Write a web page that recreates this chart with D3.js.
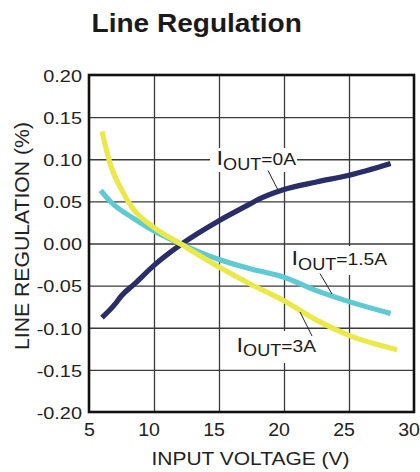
<!DOCTYPE html>
<html><head><meta charset="utf-8">
<script src="https://cdn.jsdelivr.net/npm/d3@7"></script>
<style>
html,body{margin:0;padding:0;background:#fff;}
svg{display:block;font-family:"Liberation Sans",Arial,Helvetica,sans-serif;}
</style></head>
<body><svg id="c" width="420" height="472"></svg>
<script>
// ---- data ----
const xTicks = [5, 10, 15, 20, 25, 30];
const yTicks = [-0.20, -0.15, -0.10, -0.05, 0.00, 0.05, 0.10, 0.15, 0.20];

const v0A   = [6, 7, 7.5, 8.5, 10, 12, 15, 17.4, 18, 20, 22.5, 25, 28.2];
const reg0A = [-0.088, -0.072, -0.062, -0.048, -0.026, -0.002, 0.027, 0.047, 0.052, 0.064, 0.073, 0.081, 0.095];

const v15A   = [5.9, 6.7, 8.3, 10, 12, 15, 17.4, 20, 22.5, 25, 28.2];
const reg15A = [0.063, 0.049, 0.031, 0.015, 0.000, -0.019, -0.030, -0.040, -0.056, -0.069, -0.083];

const v3A   = [6, 6.7, 7.4, 8.3, 10, 12, 15, 17.4, 20, 22.5, 25, 28.7];
const reg3A = [0.133, 0.091, 0.067, 0.043, 0.019, 0.000, -0.028, -0.048, -0.068, -0.091, -0.109, -0.126];

const seriesNames = ["0A", "1.5A", "3A"];
const colors = ["#2b2d68", "#5fcad2", "#ebe84a"];

// ---- layout ----
const svg = d3.select("#c");
const L = 89, R = 414, T = 75, B = 412;
const x = d3.scaleLinear().domain([5, 30]).range([L, R]);
const y = d3.scaleLinear().domain([-0.2, 0.2]).range([B, T]);
const font = '"Liberation Sans",Arial,Helvetica,sans-serif';

// title
svg.append("text").attr("transform", "translate(91.5,31.5) scale(1.1,1)")
  .attr("font-size", 25.5).attr("font-weight", "bold").attr("fill", "#1a1a1a")
  .text("Line Regulation");

// gridlines
const gx = svg.append("g").attr("transform", `translate(0,${B})`)
  .call(d3.axisBottom(x).tickValues(xTicks.slice(1, -1)).tickSize(-(B - T)).tickFormat(""));
const gy = svg.append("g").attr("transform", `translate(${L},0)`)
  .call(d3.axisLeft(y).tickValues(yTicks.slice(1, -1)).tickSize(-(R - L)).tickFormat(""));
[gx, gy].forEach(g => {
  g.select(".domain").remove();
  g.selectAll(".tick line").attr("stroke", "#3a3a3a").attr("stroke-width", 1.3);
});

// white boxes behind labels
const boxes = [[210, 148, 87, 24], [289, 246, 103, 29], [233, 331, 85, 32]];
svg.append("g").selectAll("rect").data(boxes).join("rect")
  .attr("x", d => d[0]).attr("y", d => d[1]).attr("width", d => d[2]).attr("height", d => d[3])
  .attr("fill", "#fff");

// frame
svg.append("rect").attr("x", L).attr("y", T).attr("width", R - L).attr("height", B - T)
  .attr("fill", "none").attr("stroke", "#111").attr("stroke-width", 2.6);

// tick labels
const ax = svg.append("g").attr("transform", `translate(0,${B})`)
  .call(d3.axisBottom(x).tickValues(xTicks).tickSize(0).tickPadding(0).tickFormat(d3.format("d")));
ax.select(".domain").remove();
ax.selectAll("text").attr("text-anchor", "end").attr("x", 0).attr("y", 0).attr("dy", 0)
  .attr("transform", "translate(5.5,24) scale(1.12,1)")
  .attr("font-size", 17.5).attr("fill", "#222").attr("font-family", font);

const ay = svg.append("g").attr("transform", `translate(${L},0)`)
  .call(d3.axisLeft(y).tickValues(yTicks).tickSize(0).tickPadding(0).tickFormat(d3.format(".2f")));
ay.select(".domain").remove();
ay.selectAll("text").attr("x", 0).attr("y", 0).attr("dy", 0).attr("text-anchor", "end")
  .attr("transform", "translate(-7,6.3) scale(1.17,1)")
  .attr("font-size", 17).attr("fill", "#222").attr("font-family", font)
  .text(d => d3.format(".2f")(d).replace("−", "-"));

// axis titles
svg.append("text").attr("x", 151.5).attr("y", 465).attr("font-size", 19).attr("fill", "#222")
  .attr("textLength", 198).attr("lengthAdjust", "spacingAndGlyphs").text("INPUT VOLTAGE (V)");
svg.append("text").attr("transform", "translate(28.5,350) rotate(-90)")
  .attr("font-size", 19.5).attr("fill", "#222")
  .attr("textLength", 228).attr("lengthAdjust", "spacingAndGlyphs").text("LINE REGULATION (%)");

// curves
const line = d3.line().x(d => x(d[0])).y(d => y(d[1])).curve(d3.curveMonotoneX);
const series = [d3.zip(v0A, reg0A), d3.zip(v15A, reg15A), d3.zip(v3A, reg3A)];
svg.append("g").selectAll("path").data(series).join("path")
  .attr("d", line).attr("fill", "none").attr("stroke", (d, i) => colors[i])
  .attr("stroke-width", 5.2).attr("stroke-linecap", "butt").attr("stroke-linejoin", "round");

// labels: [x, baseline y, name, leader x1,y1,x2,y2]
const labels = [
  [216.5, 165, seriesNames[0], 268, 170.5, 278, 190],
  [291.5, 265, seriesNames[1], 320, 273.5, 332, 294],
  [236.5, 351.5, seriesNames[2], 300, 312, 312, 336]
];
const lg = svg.append("g");
labels.forEach(l => {
  lg.append("line").attr("x1", l[3]).attr("y1", l[4]).attr("x2", l[5]).attr("y2", l[6])
    .attr("stroke", "#222").attr("stroke-width", 1);
  const t = lg.append("text").attr("transform", `translate(${l[0]},${l[1]}) scale(1.13,1)`)
    .attr("fill", "#1a1a1a");
  t.append("tspan").attr("font-size", 21).text("I");
  t.append("tspan").attr("font-size", 16).attr("dy", 4.5).text("OUT");
  t.append("tspan").attr("font-size", 17).attr("dy", -4.5).text("=" + l[2]);
});
</script></body></html>
